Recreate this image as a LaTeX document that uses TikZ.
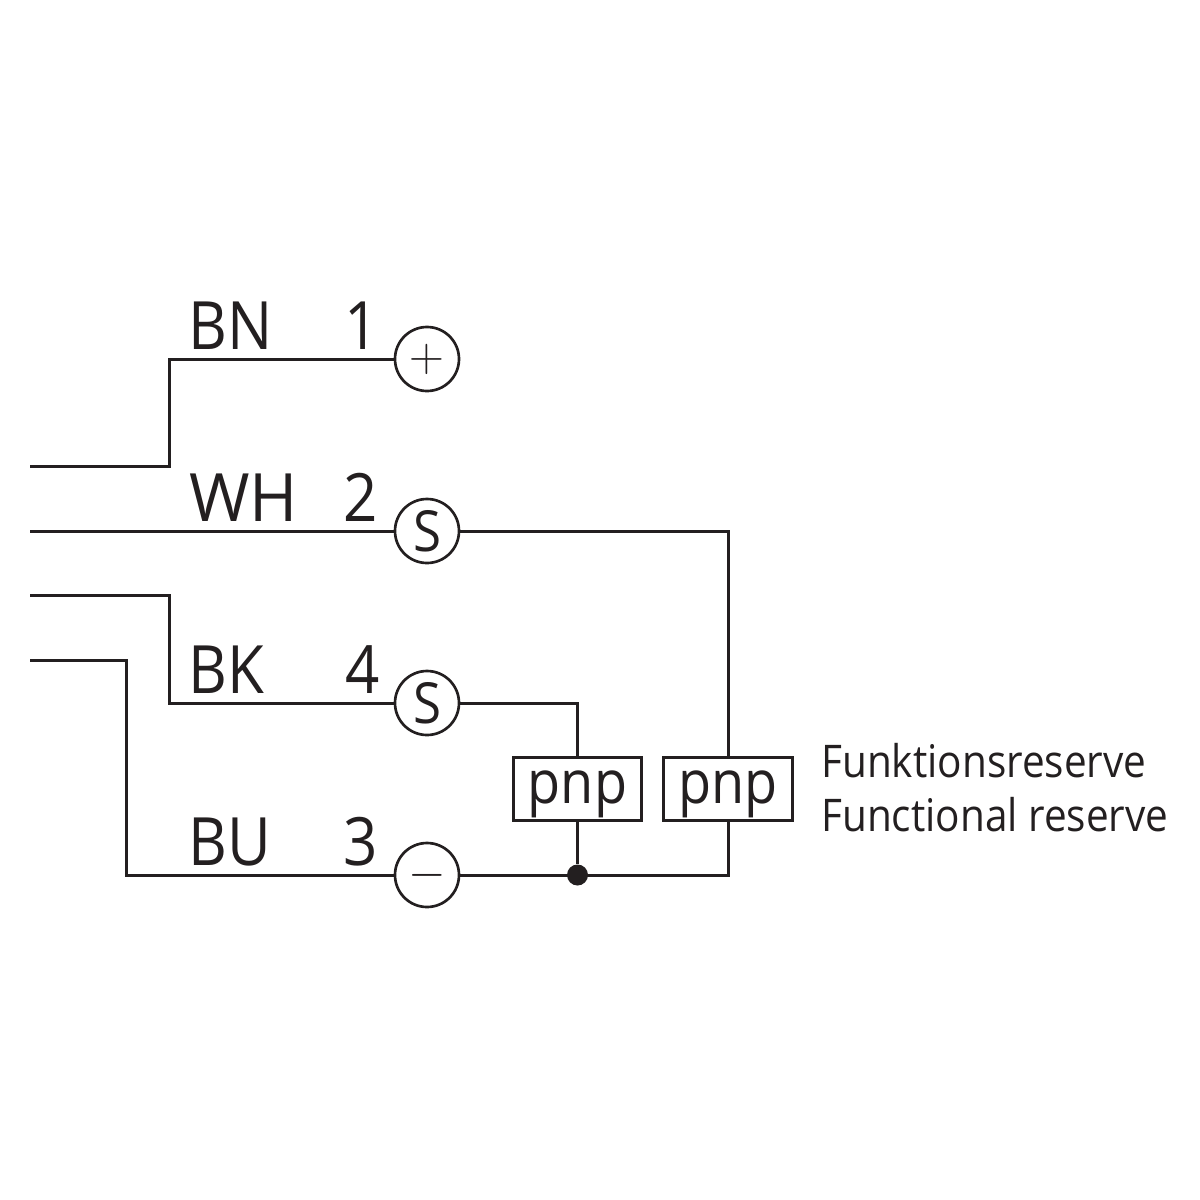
\documentclass[tikz,border=0pt]{standalone}
\usepackage{fix-cm}
\usepackage{fontspec}
\setmainfont[FakeStretch=0.9]{Open Sans}
\definecolor{wire}{RGB}{35, 31, 32}
\newlength{\pxu}
\setlength{\pxu}{0.6pt}
\tikzset{
	pin/.style={draw=wire, circle, line width=1.6pt, minimum size=64\pxu, inner sep=0pt, text=wire, font=\fontsize{34}{34}\selectfont},
	pinsign/.style={pin, font=\fontsize{29}{29}\selectfont},
	pnpbox/.style={draw=wire, line width=1.7pt, minimum width=128.5\pxu, minimum height=63.5\pxu, inner sep=0pt, text=wire, text height=25.5pt, text depth=8.7pt, font=\fontsize{36}{36}\selectfont},
	lab/.style={text=wire, inner sep=0pt, font=\fontsize{40}{40}\selectfont},
	note/.style={text=wire, inner sep=0pt, anchor=base west, font=\fontsize{27}{27}\selectfont},
	wireline/.style={draw=wire, line width=1.8pt}
}
\begin{document}
\begin{tikzpicture}[x=\pxu, y=-\pxu]
	\useasboundingbox (0,0) rectangle (1200,1200);

	% bornes
	\node[pinsign] (p1) at (427,359) {$+$};
	\node[pin] (p2) at (427,531) {S};
	\node[pin] (p4) at (427,703) {S};
	\node[pinsign] (p3) at (427,875) {$-$};

	% boites
	\node[pnpbox] (b1) at (577.5,789) {pnp};
	\node[pnpbox] (b2) at (728,789) {pnp};

	% entrees
	\coordinate (e1) at (30,466);
	\coordinate (e2) at (30,531);
	\coordinate (e4) at (30,595);
	\coordinate (e3) at (30,660);

	% fils
	\draw[wireline] (e1) -| (169.5,359) -- (p1.west);
	\draw[wireline] (e2) -- (p2.west);
	\draw[wireline] (e4) -| (169.5,703) -- (p4.west);
	\draw[wireline] (e3) -| (126.5,875) -- (p3.west);
	\draw[wireline] (p2.east) -| (b2.north);
	\draw[wireline] (p4.east) -| (b1.north);
	\draw[wireline] (p3.east) -| (b2.south);
	\node[circle, fill=wire, minimum size=21\pxu, inner sep=0pt] (jn) at (b1.south |- p3) {};
	\draw[wireline] (b1.south) -- (jn);

	% textes
	\node[lab, anchor=base west] (tbn) at (188,349) {BN};
	\node[lab, anchor=base west] (twh) at (189,521) {\scalebox{1.09}[1]{WH}};
	\node[lab, anchor=base west] (tbk) at (188,693) {BK};
	\node[lab, anchor=base west] (tbu) at (188,865) {BU};
	\node[lab, anchor=base east] (t1) at (379,349) {1};
	\node[lab, anchor=base east] (t2) at (378,521) {2};
	\node[lab, anchor=base east] (t4) at (380,693) {4};
	\node[lab, anchor=base east] (t3) at (378,865) {3};
	\node[note] (n1) at (821,777) {Funktionsreserve};
	\node[note] (n2) at (821,831) {Functional reserve};
\end{tikzpicture}
\end{document}
